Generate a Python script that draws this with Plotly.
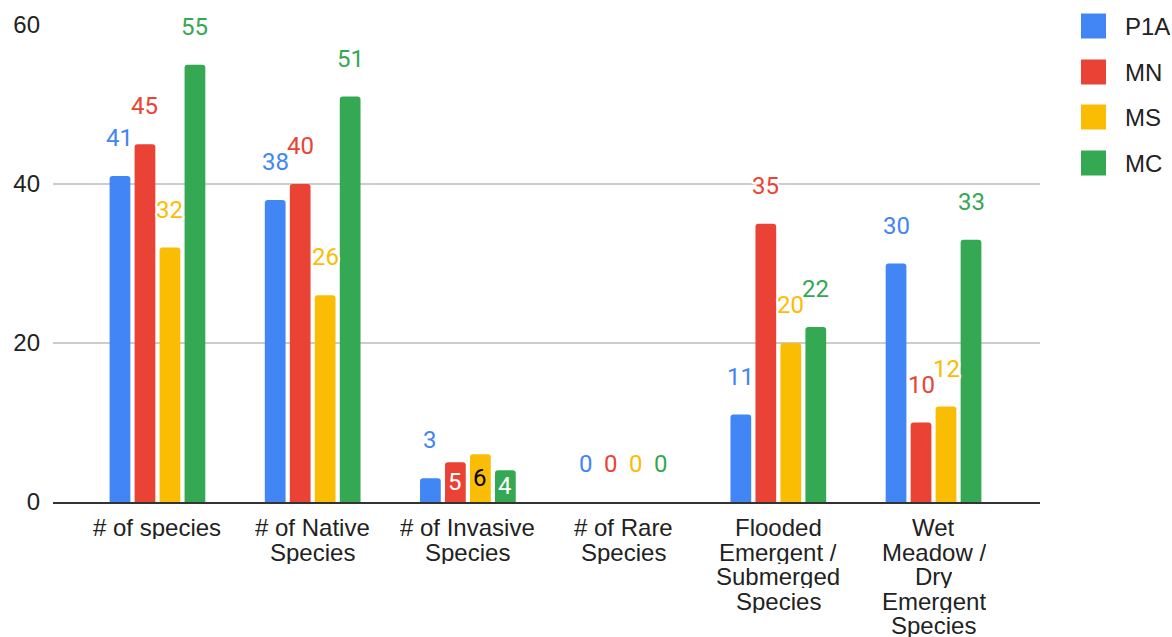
import plotly.graph_objects as go

# --- data ---------------------------------------------------------------
categories = [
    "# of species",
    "# of Native Species",
    "# of Invasive Species",
    "# of Rare Species",
    "Flooded Emergent / Submerged Species",
    "Wet Meadow / Dry Emergent Species",
]
category_lines = [
    ["# of species"],
    ["# of Native", "Species"],
    ["# of Invasive", "Species"],
    ["# of Rare", "Species"],
    ["Flooded", "Emergent /", "Submerged", "Species"],
    ["Wet", "Meadow /", "Dry", "Emergent", "Species"],
]
series_names = ["P1A", "MN", "MS", "MC"]
p1a = [41, 38, 3, 0, 11, 30]
mn = [45, 40, 5, 0, 35, 10]
ms = [32, 26, 6, 0, 20, 12]
mc = [55, 51, 4, 0, 22, 33]
y_ticks = [0, 20, 40, 60]

# --- styling ------------------------------------------------------------
series_values = [p1a, mn, ms, mc]
colors = ["#4285F4", "#EA4335", "#FBBC04", "#34A853"]
# labels drawn inside the bar (category index, series index) -> text colour
inside_labels = {(2, 1): "#ffffff", (2, 2): "#000000", (2, 3): "#ffffff"}

W, H = 1172, 637
L, R, T, B = 53, 132, 25, 135
PLOT_W, PLOT_H = W - L - R, H - T - B
BARGAP = 0.356
SLOT = (1 - BARGAP) / len(series_names)
LINE_STEP = 24.6
AXIS_FONT = "Liberation Sans, Arial, sans-serif"
LABEL_FONT = "Roboto, Arial, sans-serif"
HALO = ("-2px 0 0 #fff, 2px 0 0 #fff, 0 -2px 0 #fff, 0 2px 0 #fff, "
        "-1.5px -1.5px 0 #fff, 1.5px 1.5px 0 #fff, -1.5px 1.5px 0 #fff, 1.5px -1.5px 0 #fff")

fig = go.Figure()
for name, vals, col in zip(series_names, series_values, colors):
    fig.add_trace(go.Bar(
        name=name, x=list(range(len(categories))), y=vals,
        marker=dict(color=col, line=dict(width=0)),
        hovertext=categories, showlegend=False,
    ))

annotations = []
# value labels
for k, (vals, col) in enumerate(zip(series_values, colors)):
    for i, v in enumerate(vals):
        xpos = i + (k - (len(series_names) - 1) / 2) * SLOT
        if (i, k) in inside_labels:
            annotations.append(dict(
                x=xpos, y=v / 2, xref="x", yref="y", text=str(v), showarrow=False,
                yanchor="middle", xanchor="center",
                font=dict(family=LABEL_FONT, size=24, color=inside_labels[(i, k)]),
            ))
        else:
            annotations.append(dict(
                x=xpos, y=v, xref="x", yref="y", text=str(v), showarrow=False,
                yanchor="middle", xanchor="center", yshift=38,
                font=dict(family=LABEL_FONT, size=24, color=col, shadow=HALO),
            ))

# category labels, one line at a time for compact line spacing
for i, lines in enumerate(category_lines):
    for j, line in enumerate(lines):
        annotations.append(dict(
            x=i, y=0, xref="x", yref="paper", text=line, showarrow=False,
            yanchor="middle", xanchor="center", valign="middle",
            height=int(LINE_STEP), yshift=-25 - LINE_STEP * j,
            font=dict(family=AXIS_FONT, size=24, color="#222222"),
        ))

# legend
shapes = []
legend_rows = [26, 72, 117, 163]
for name, col, cy in zip(series_names, colors, legend_rows):
    x0 = (1081 - L) / PLOT_W
    x1 = (1106 - L) / PLOT_W
    y0 = (H - B - (cy + 12.5)) / PLOT_H
    y1 = (H - B - (cy - 12.5)) / PLOT_H
    shapes.append(dict(type="rect", xref="paper", yref="paper",
                       x0=x0, x1=x1, y0=y0, y1=y1,
                       fillcolor=col, line=dict(width=0), layer="above"))
    annotations.append(dict(
        x=(1123 - L) / PLOT_W, y=(H - B - cy) / PLOT_H, xref="paper", yref="paper",
        text=name, showarrow=False, xanchor="left", yanchor="middle",
        font=dict(family=AXIS_FONT, size=24, color="#222222"),
    ))

fig.update_layout(
    width=W, height=H,
    margin=dict(l=L, r=R, t=T, b=B, pad=0),
    paper_bgcolor="white", plot_bgcolor="white",
    barmode="group", bargap=BARGAP, bargroupgap=0.17, barcornerradius=3,
    annotations=annotations, shapes=shapes,
    showlegend=False,
)
fig.update_xaxes(
    range=[-0.673, 5.686], showticklabels=False, showgrid=False, zeroline=False,
    showline=True, linecolor="#333333", linewidth=2, ticks="",
)
fig.update_yaxes(
    range=[0, 60], tickvals=y_ticks, ticktext=[str(t) for t in y_ticks],
    showgrid=True, gridcolor="#cccccc", gridwidth=1.5, zeroline=False,
    ticks="", ticklabelstandoff=12,
    tickfont=dict(family=AXIS_FONT, size=24, color="#222222"),
)

fig.write_html("out.html")
